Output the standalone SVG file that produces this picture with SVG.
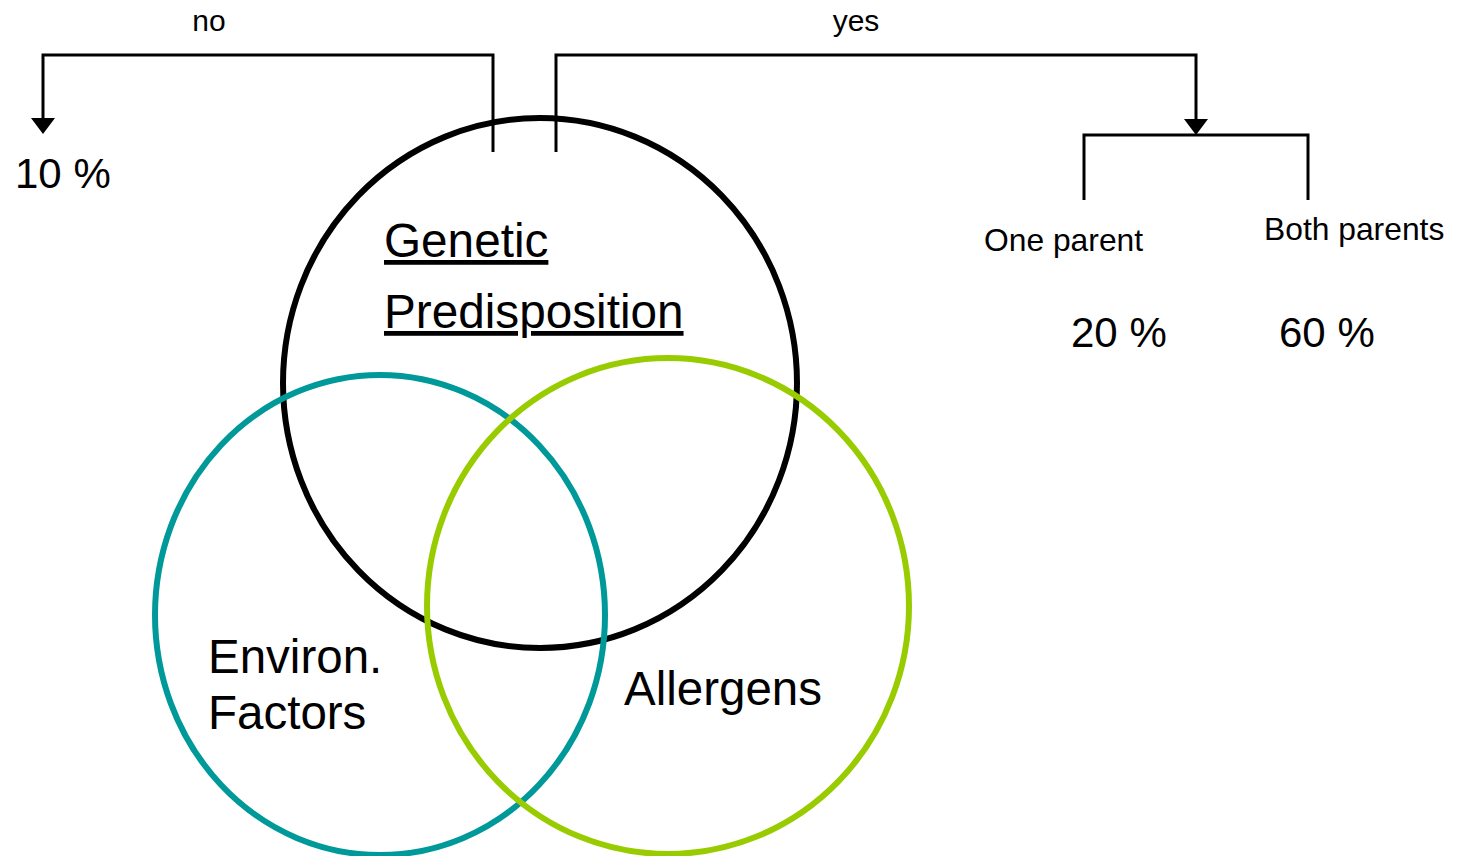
<svg xmlns="http://www.w3.org/2000/svg" width="1461" height="856" viewBox="0 0 1461 856">
<style>
text{font-family:"Liberation Sans",Arial,sans-serif;fill:#000}
.ln{fill:none;stroke:#000;stroke-width:3}
.c{fill:none;stroke-width:6}
</style>
<rect width="1461" height="856" fill="#fff"/>
<g id="genetic">
<ellipse class="c" cx="540" cy="383" rx="257" ry="265" stroke="#000"/>
<text x="384" y="257" font-size="47.7" text-decoration="underline">Genetic</text>
<text x="384" y="328" font-size="47.7" text-decoration="underline">Predisposition</text>
</g>
<g id="environ">
<ellipse class="c" cx="380" cy="615" rx="225" ry="240" stroke="#009999"/>
<text x="208" y="673" font-size="47.5">Environ.</text>
<text x="208" y="729" font-size="47.5">Factors</text>
</g>
<g id="allergens">
<ellipse class="c" cx="668" cy="606" rx="241" ry="248" stroke="#99CC00"/>
<text x="624" y="705" font-size="47.5">Allergens</text>
</g>
<g id="connectors">
<path class="ln" d="M493,152 V55 H43 V118"/>
<path d="M31,118 L55,118 L43,134 z" fill="#000"/>
<path class="ln" d="M556,152 V55 H1196 V119"/>
<path d="M1184,119 L1208,119 L1196,135 z" fill="#000"/>
<path class="ln" d="M1084,200 V135 H1308 V200"/>
</g>
<g id="labels">
<text x="209" y="31" font-size="30" text-anchor="middle">no</text>
<text x="856" y="31" font-size="30" text-anchor="middle">yes</text>
<text x="15" y="188" font-size="42">10 %</text>
<text x="984" y="251" font-size="31.8">One parent</text>
<text x="1264" y="240" font-size="31.8">Both parents</text>
<text x="1071" y="347" font-size="42">20 %</text>
<text x="1279" y="347" font-size="42">60 %</text>
</g>
</svg>
